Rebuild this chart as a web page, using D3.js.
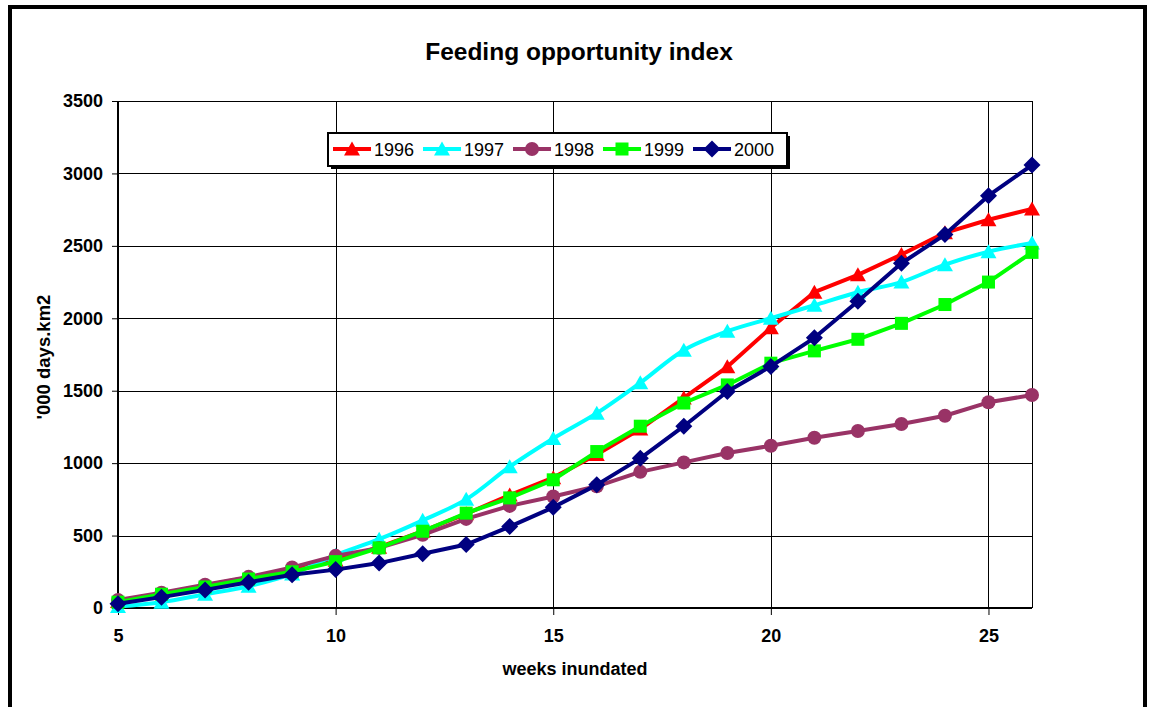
<!DOCTYPE html>
<html>
<head>
<meta charset="utf-8">
<script src="https://cdn.jsdelivr.net/npm/d3@7"></script>
<style>
  body { margin: 0; background: #fff; }
  text { font-family: Arial, "Liberation Sans", sans-serif; }
</style>
</head>
<body>
<svg id="chart" width="1150" height="707"></svg>
<script>
// weeks inundated
var weeks = [5, 6, 7, 8, 9, 10, 11, 12, 13, 14, 15, 16, 17, 18, 19, 20, 21, 22, 23, 24, 25, 26];

// '000 days.km2
var y1996 = [45, 100, 155, 210, 265, 330, 420, 530, 650, 780, 900, 1060, 1235, 1450, 1665, 1935, 2180, 2300, 2440, 2590, 2680, 2755];
var y1997 = [10, 40, 95, 150, 235, 365, 475, 605, 750, 975, 1170, 1345, 1555, 1780, 1910, 2000, 2090, 2180, 2250, 2370, 2460, 2520];
var y1998 = [55, 105, 160, 215, 280, 360, 415, 505, 615, 705, 770, 840, 940, 1005, 1070, 1120, 1175, 1222, 1270, 1327, 1420, 1470];
var y1999 = [40, 95, 145, 200, 250, 320, 415, 530, 655, 760, 885, 1080, 1255, 1415, 1540, 1690, 1775, 1855, 1965, 2095, 2250, 2455];
var y2000 = [30, 75, 125, 178, 230, 265, 310, 375, 438, 562, 695, 850, 1033, 1255, 1495, 1668, 1865, 2118, 2380, 2578, 2846, 3058];

var years = ["1996", "1997", "1998", "1999", "2000"];
var colors = ["#ff0000", "#00ffff", "#993366", "#00ff00", "#000080"];
var shapes = ["triangle", "triangle", "circle", "square", "diamond"];
var smooth = [false, true, false, false, false];

var xTicks = [5, 10, 15, 20, 25];
var yTicks = [0, 500, 1000, 1500, 2000, 2500, 3000, 3500];

var series = [y1996, y1997, y1998, y1999, y2000].map(function (vals, i) {
  return {
    name: years[i], color: colors[i], shape: shapes[i], smooth: smooth[i],
    points: weeks.map(function (w, j) { return { x: w, y: vals[j] }; })
  };
});

var svg = d3.select("#chart");

// outer frame
svg.append("rect")
  .attr("x", 10).attr("y", 7)
  .attr("width", 1135).attr("height", 730)
  .attr("fill", "#fff").attr("stroke", "#000").attr("stroke-width", 4);

var x = d3.scaleLinear().domain([5, 26]).range([118, 1032]);
var y = d3.scaleLinear().domain([0, 3500]).range([608, 101]);

// gridlines
svg.append("g").selectAll("line")
  .data(yTicks.slice(1))
  .enter().append("line")
    .attr("x1", x(5)).attr("x2", x(26))
    .attr("y1", function (d) { return Math.round(y(d)) + 0.5; })
    .attr("y2", function (d) { return Math.round(y(d)) + 0.5; })
    .attr("stroke", "#000").attr("stroke-width", 1);

svg.append("g").selectAll("line")
  .data(xTicks.slice(1).concat([26]))
  .enter().append("line")
    .attr("x1", function (d) { return Math.round(x(d)) + 0.5; })
    .attr("x2", function (d) { return Math.round(x(d)) + 0.5; })
    .attr("y1", y(3500)).attr("y2", y(0))
    .attr("stroke", "#000").attr("stroke-width", 1);

// axes
var xAxis = d3.axisBottom(x).tickValues(xTicks).tickSize(7).tickPadding(14).tickFormat(d3.format("d"));
var yAxis = d3.axisLeft(y).tickValues(yTicks).tickSize(6).tickPadding(9).tickFormat(d3.format("d"));

var gx = svg.append("g").attr("transform", "translate(0," + y(0) + ")").call(xAxis);
var gy = svg.append("g").attr("transform", "translate(" + x(5) + ",0)").call(yAxis);

[gx, gy].forEach(function (g) {
  g.select(".domain").attr("stroke", "#000").attr("stroke-width", 2);
  g.selectAll(".tick line").attr("stroke", "#000").attr("stroke-width", 1);
  g.selectAll(".tick text")
    .style("font-family", "Arial, 'Liberation Sans', sans-serif")
    .style("font-size", "18px").style("font-weight", "bold").attr("fill", "#000");
});
gy.select(".domain").attr("d", "M0," + y(3500) + "V" + (y(0) + 1));
gx.select(".domain").attr("d", "M" + x(5) + ",0H" + x(26));

// markers
function marker(sel, shape, color) {
  if (shape === "circle") {
    sel.append("circle").attr("r", 7).attr("fill", color);
  } else if (shape === "triangle") {
    sel.append("path").attr("d", "M0,-7.5L8,6.5L-8,6.5Z").attr("fill", color);
  } else if (shape === "square") {
    sel.append("rect").attr("x", -6.5).attr("y", -6.5).attr("width", 13).attr("height", 13).attr("fill", color);
  } else if (shape === "diamond") {
    sel.append("path").attr("d", "M0,-8.5L8.5,0L0,8.5L-8.5,0Z").attr("fill", color);
  }
}

var line = d3.line().x(function (d) { return x(d.x); }).y(function (d) { return y(d.y); });
var smoothLine = d3.line().curve(d3.curveCatmullRom.alpha(0.5))
  .x(function (d) { return x(d.x); }).y(function (d) { return y(d.y); });

series.forEach(function (s) {
  var g = svg.append("g");
  g.append("path")
    .attr("d", (s.smooth ? smoothLine : line)(s.points))
    .attr("fill", "none").attr("stroke", s.color).attr("stroke-width", 4)
    .attr("stroke-linejoin", "round");
  g.selectAll("g.pt")
    .data(s.points)
    .enter().append("g")
      .attr("class", "pt")
      .attr("transform", function (d) { return "translate(" + x(d.x) + "," + y(d.y) + ")"; })
      .each(function () { marker(d3.select(this), s.shape, s.color); });
});

// title and axis titles
svg.append("text")
  .attr("x", 579).attr("y", 60)
  .attr("text-anchor", "middle")
  .style("font-size", "24.5px").style("font-weight", "bold")
  .text("Feeding opportunity index");

svg.append("text")
  .attr("x", 575).attr("y", 675)
  .attr("text-anchor", "middle")
  .style("font-size", "18px").style("font-weight", "bold")
  .text("weeks inundated");

svg.append("text")
  .attr("transform", "translate(50,357) rotate(-90)")
  .attr("text-anchor", "middle")
  .style("font-size", "18.5px").style("font-weight", "bold")
  .text("'000 days.km2");

// legend
var legend = svg.append("g");
legend.append("rect")
  .attr("x", 331).attr("y", 136).attr("width", 459).attr("height", 33)
  .attr("fill", "#000");
legend.append("rect")
  .attr("x", 328).attr("y", 133).attr("width", 459).attr("height", 33)
  .attr("fill", "#fff").attr("stroke", "#000").attr("stroke-width", 2);

var items = legend.selectAll("g.item")
  .data(series)
  .enter().append("g")
    .attr("class", "item")
    .attr("transform", function (d, i) { return "translate(" + (333 + i * 90) + ",149)"; });

items.append("line")
  .attr("x1", 0).attr("x2", 38).attr("y1", 0).attr("y2", 0)
  .attr("stroke", function (d) { return d.color; }).attr("stroke-width", 4);
items.append("g")
  .attr("transform", "translate(19,0)")
  .each(function (d) { marker(d3.select(this), d.shape, d.color); });
items.append("text")
  .attr("x", 41).attr("y", 6.5)
  .style("font-size", "18px")
  .text(function (d) { return d.name; });
</script>
</body>
</html>
